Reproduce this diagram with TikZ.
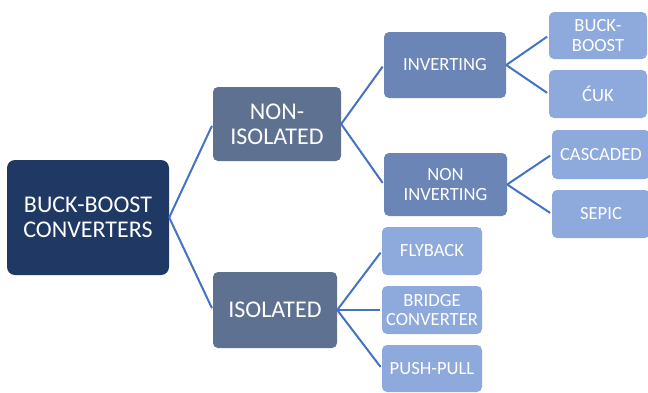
\documentclass[tikz,border=0pt]{standalone}
\usepackage{fontspec}
\setmainfont{Carlito}
\usepackage{tikz}

\definecolor{rootblue}{HTML}{203864}
\definecolor{grayblue}{HTML}{5F7191}
\definecolor{midblue}{HTML}{6A85B6}
\definecolor{leafblue}{HTML}{8EA9DB}
\definecolor{linkblue}{HTML}{4472C4}

\begin{document}
\begin{tikzpicture}[x=1pt,y=-1pt,
	box/.style={rounded corners=5pt, text=white, inner sep=0pt, align=center,
		font=\fontsize{18.6}{19.5}\selectfont},
	big/.style={box, font=\fontsize{24}{25}\selectfont},
	link/.style={linkblue, line width=2pt, shorten >=2pt}]
\useasboundingbox (0,0) rectangle (648,392);
\clip (0,0) rectangle (648,392);
\node[big, fill=rootblue, rounded corners=8pt, minimum width=162pt, minimum height=115pt] (root) at (88,217.5) {BUCK-BOOST\\CONVERTERS};
\node[big, fill=grayblue, minimum width=128pt, minimum height=74pt] (noniso) at (277,124) {NON-\\ISOLATED};
\node[big, fill=grayblue, minimum width=124pt, minimum height=76pt] (iso) at (275,310) {ISOLATED};
\node[box, fill=midblue, minimum width=122pt, minimum height=66pt] (inv) at (445,65) {INVERTING};
\node[box, fill=midblue, minimum width=123pt, minimum height=63pt] (noninv) at (445.5,184.5) {NON\\INVERTING};
\node[box, fill=leafblue, minimum width=98pt, minimum height=47pt] (buckboost) at (598,35.5) {BUCK-\\BOOST};
\node[box, fill=leafblue, minimum width=98pt, minimum height=48pt] (cuk) at (598,94) {ĆUK};
\node[box, fill=leafblue, minimum width=98pt, minimum height=49pt] (cascaded) at (601,154.5) {CASCADED};
\node[box, fill=leafblue, minimum width=98pt, minimum height=48pt] (sepic) at (601,214) {SEPIC};
\node[box, fill=leafblue, minimum width=100pt, minimum height=48pt] (flyback) at (432,251) {FLYBACK};
\node[box, fill=leafblue, minimum width=100pt, minimum height=48pt] (bridge) at (432,310) {BRIDGE\\CONVERTER};
\node[box, fill=leafblue, minimum width=100pt, minimum height=47pt] (pushpull) at (432,368.5) {PUSH-PULL};
% connectors
\foreach \a/\b in {root/noniso, root/iso, noniso/inv, noniso/noninv, iso/flyback, iso/bridge, iso/pushpull, inv/buckboost, inv/cuk, noninv/cascaded, noninv/sepic}
	\draw[link] (\a.east) -- (\b.west);
\end{tikzpicture}
\end{document}
